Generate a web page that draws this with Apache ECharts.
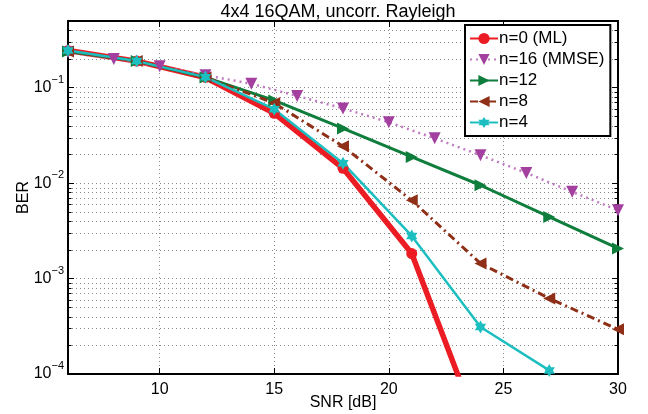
<!DOCTYPE html>
<html>
<head>
<meta charset="utf-8">
<script src="https://cdn.jsdelivr.net/npm/echarts@6/dist/echarts.min.js"></script>
<style>html,body{margin:0;padding:0;background:#fff;}#c{width:648px;height:414px;}</style>
</head>
<body>
<div id="c"></div>
<script>
// ---- data ----
var titleText = '4x4 16QAM, uncorr. Rayleigh';
var xName = 'SNR [dB]';
var yName = 'BER';
var seriesNames = ['n=0 (ML)', 'n=16 (MMSE)', 'n=12', 'n=8', 'n=4'];
var snr = [6, 9, 12, 15, 18, 21, 24, 27, 30];
var snrMmse = [6, 8, 10, 12, 14, 16, 18, 20, 22, 24, 26, 28, 30];
var berML = [0.245, 0.19, 0.128, 0.054, 0.0143, 0.00183, 0.0000233];
var berMMSE = [0.235, 0.2, 0.168, 0.135, 0.11, 0.082, 0.0607, 0.0434, 0.0295, 0.0196, 0.0128, 0.0081, 0.0052];
var berN12 = [0.24, 0.19, 0.128, 0.0736, 0.0374, 0.0188, 0.0095, 0.00443, 0.00207];
var berN8 = [0.24, 0.19, 0.128, 0.069, 0.0243, 0.0066, 0.00144, 0.00062, 0.000294];
var berN4 = [0.245, 0.19, 0.129, 0.0595, 0.0162, 0.0028, 0.000311, 0.000109];
var xMin = 6, xMax = 30;
var yMin = 1e-4, yMax = 0.5;
var minorMantissas = [2, 3, 4, 5, 6, 7, 8, 9];
var decades = [-4, -3, -2, -1];

function pairs(xs, ys) {
  var out = [];
  for (var i = 0; i < ys.length; i++) out.push([xs[i], ys[i]]);
  return out;
}
var minorVals = [];
decades.forEach(function (d) {
  minorMantissas.forEach(function (m) {
    var v = m * Math.pow(10, d);
    if (v < yMax * 0.999) minorVals.push([xMin, v]);
  });
});

var FONT = '"Liberation Sans", Arial, Helvetica, sans-serif';
var hexagram = 'path://M0,-10 L2.887,-5 L8.66,-5 L5.774,0 L8.66,5 L2.887,5 L0,10 L-2.887,5 L-8.66,5 L-5.774,0 L-8.66,-5 L-2.887,-5 Z';

function yLabel(value) {
  var e = Math.round(Math.log(value) / Math.LN10);
  if (Math.abs(value - Math.pow(10, e)) / value > 1e-6) return '';
  var s = (e < 0 ? '\u2212' : '') + Math.abs(e);
  return '{b|10}{s|' + s + '}';
}

var chart = echarts.init(document.getElementById('c'), null, { renderer: 'canvas' });
var gridLine = { show: true, lineStyle: { color: '#8a8a8a', type: [1, 3], width: 1 } };
var axisLineBlack = { show: true, lineStyle: { color: '#000', width: 2 } };

var option = {
  backgroundColor: '#fff',
  animation: false,
  textStyle: { fontFamily: FONT },
  title: {
    text: titleText, left: 338, textAlign: 'center', top: 3, padding: 0,
    textStyle: { fontFamily: FONT, fontSize: 18, fontWeight: 'normal', color: '#000' }
  },
  grid: { left: 68, right: 30, top: 21, bottom: 40, containLabel: false, outerBoundsMode: 'none' },
  legend: {
    orient: 'vertical', left: 465, top: 25,
    data: seriesNames,
    backgroundColor: '#fff', borderColor: '#000', borderWidth: 2,
    padding: [5, 6, 5, 4], itemGap: 4, itemWidth: 28, itemHeight: 14,
    textStyle: { fontFamily: FONT, fontSize: 17, color: '#000', padding: [0, 0, 0, -4] }
  },
  xAxis: [{
    type: 'value', min: xMin, max: xMax, position: 'bottom',
    name: xName, nameLocation: 'middle', nameGap: 21, nameMoveOverlap: false,
    nameTextStyle: { fontFamily: FONT, fontSize: 16, color: '#000' },
    axisLine: axisLineBlack,
    axisTick: { show: true, inside: true, length: 6, lineStyle: { color: '#000', width: 1 } },
    axisLabel: { fontFamily: FONT, fontSize: 16, color: '#000', margin: 8,
      formatter: function (v) { return v === xMin ? '' : String(v); } },
    splitLine: gridLine
  }, {
    type: 'value', min: xMin, max: xMax, position: 'top',
    axisLine: axisLineBlack,
    axisTick: { show: true, inside: true, length: 6, lineStyle: { color: '#000', width: 1 } },
    axisLabel: { show: false }, splitLine: { show: false }
  }],
  yAxis: [{
    type: 'log', logBase: 10, min: yMin, max: yMax, position: 'left',
    name: yName, nameLocation: 'middle', nameGap: 36, nameMoveOverlap: false,
    nameTextStyle: { fontFamily: FONT, fontSize: 16, color: '#000' },
    axisLine: axisLineBlack,
    axisTick: { show: true, inside: true, length: 6, lineStyle: { color: '#000', width: 1 } },
    axisLabel: {
      color: '#000', margin: 4, formatter: yLabel,
      rich: {
        b: { fontFamily: FONT, fontSize: 16, color: '#000' },
        s: { fontFamily: FONT, fontSize: 11, color: '#000', verticalAlign: 'bottom', padding: [0, 0, 16, 0] }
      }
    },
    splitLine: gridLine
  }, {
    type: 'log', logBase: 10, min: yMin, max: yMax, position: 'right',
    axisLine: axisLineBlack,
    axisTick: { show: true, inside: true, length: 6, lineStyle: { color: '#000', width: 1 } },
    axisLabel: { show: false }, splitLine: { show: false }
  }],
  series: [
    {
      type: 'custom', name: 'minorGrid', silent: true, z: 1,
      xAxisIndex: 0, yAxisIndex: 0, clip: false,
      data: minorVals,
      renderItem: function (params, api) {
        var p = api.coord([api.value(0), api.value(1)]);
        var cs = params.coordSys;
        var y = Math.round(p[1]) + 0.5;
        return { type: 'group', children: [
          { type: 'line', shape: { x1: cs.x, y1: y, x2: cs.x + cs.width, y2: y },
            style: { stroke: '#8a8a8a', lineWidth: 1, lineDash: [1, 3] } },
          { type: 'line', shape: { x1: cs.x, y1: y, x2: cs.x + 3.5, y2: y },
            style: { stroke: '#000', lineWidth: 1 } },
          { type: 'line', shape: { x1: cs.x + cs.width - 3.5, y1: y, x2: cs.x + cs.width, y2: y },
            style: { stroke: '#000', lineWidth: 1 } }
        ] };
      }
    },
    {
      name: seriesNames[0], type: 'line', data: pairs(snr, berML), clip: true, z: 3,
      symbol: 'circle', symbolSize: 11,
      lineStyle: { color: '#ec1c24', width: 5.5 }, itemStyle: { color: '#ec1c24' }
    },
    {
      name: seriesNames[1], type: 'line', data: pairs(snrMmse, berMMSE), clip: true, z: 3,
      symbol: 'triangle', symbolRotate: 180, symbolSize: 12,
      lineStyle: { color: '#c07cc0', width: 2.5, type: [2, 4] }, itemStyle: { color: '#a3409f' }
    },
    {
      name: seriesNames[2], type: 'line', data: pairs(snr, berN12), clip: true, z: 3,
      symbol: 'triangle', symbolRotate: -90, symbolSize: 12,
      lineStyle: { color: '#0f7d3c', width: 3 }, itemStyle: { color: '#0f7d3c' }
    },
    {
      name: seriesNames[3], type: 'line', data: pairs(snr, berN8), clip: true, z: 3,
      symbol: 'triangle', symbolRotate: 90, symbolSize: 12,
      lineStyle: { color: '#8f2f17', width: 3, type: [8, 4, 2, 4] }, itemStyle: { color: '#8f2f17' }
    },
    {
      name: seriesNames[4], type: 'line', data: pairs(snr, berN4), clip: true, z: 3,
      symbol: hexagram, symbolKeepAspect: true, symbolSize: 13,
      lineStyle: { color: '#1dbec0', width: 2.5 }, itemStyle: { color: '#1dbec0' }
    }
  ]
};
chart.setOption(option);
</script>
</body>
</html>
